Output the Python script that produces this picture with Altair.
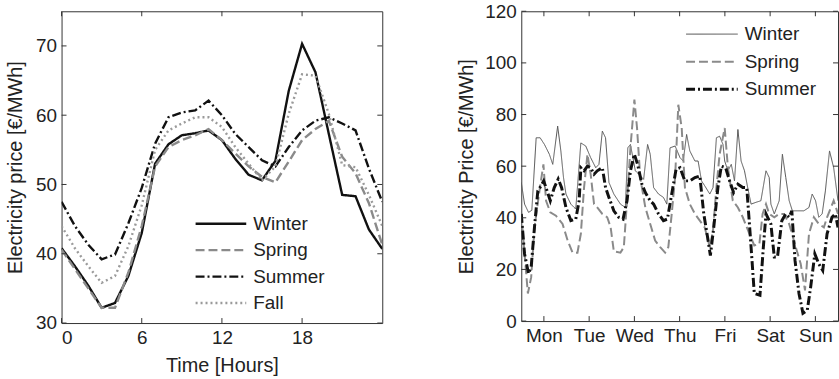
import json
import altair as alt
import pandas as pd

FONT = "Liberation Sans"
INK = "#222222"
FRAME = "#333333"

# ---------------- Average daily profile per season (hour of day, EUR/MWh) ----------------
day_hours = list(range(25))
day_winter = [40.8, 38.2, 35.4, 32.2, 32.9, 36.8, 43.0, 53.0, 55.8, 57.1, 57.4, 57.8, 56.4,
              53.7, 51.4, 50.6, 53.4, 63.5, 70.3, 66.2, 57.3, 48.5, 48.3, 43.5, 40.7]
day_spring = [40.6, 37.8, 35.0, 32.2, 32.2, 37.3, 44.0, 52.6, 55.4, 56.4, 57.1, 58.0, 56.4,
              54.5, 52.6, 51.1, 50.3, 53.3, 56.4, 58.0, 59.2, 54.0, 51.6, 47.3, 41.3]
day_summer = [47.5, 44.0, 41.3, 39.2, 39.9, 44.4, 49.5, 55.9, 59.7, 60.4, 60.7, 62.1, 60.0,
              57.3, 55.4, 53.5, 52.6, 55.4, 57.8, 59.2, 59.7, 58.8, 57.8, 52.3, 47.5]
day_fall = [44.0, 40.8, 38.2, 35.8, 36.8, 41.1, 47.0, 55.0, 57.8, 58.8, 59.7, 59.7, 58.3,
            55.4, 53.0, 50.6, 52.6, 60.2, 65.9, 65.7, 60.2, 52.8, 52.5, 48.5, 44.0]
day_seasons = ["Winter", "Spring", "Summer", "Fall"]
day_xticks = [0, 6, 12, 18]
day_yticks = [30, 40, 50, 60, 70]

# ---------------- One week of hourly prices (hour of week, EUR/MWh) ----------------
week_winter_h = [0, 1.75, 3.86, 5.6, 7.9, 10.0, 12.3, 14.9, 16.7, 19.3, 21.0, 22.4, 23.7, 26.3,
                 28.9, 31.6, 34.2, 36.8, 39.5, 41.2, 43.0, 44.7, 46.5, 49.1, 52.6, 55.2, 56.5,
                 57.9, 60.5, 62.3, 64.9, 67.0, 68.4, 70.2, 72.8, 75.4, 77.2, 78.9, 81.6, 84.2,
                 85.9, 87.7, 89.4, 92.1, 93.8, 95.6, 97.3, 100.0, 101.7, 103.5, 105.2, 107.0,
                 107.9, 109.6, 111.4, 113.1, 114.9, 116.6, 118.4, 120.1, 121.9, 124.5, 127.1,
                 129.8, 131.5, 132.4, 134.2, 136.8, 138.5, 140.3, 142.1, 143.8, 146.4, 149.9,
                 152.6, 154.3, 156.1, 157.8, 159.6, 161.3, 163.5, 165.7, 168.0]
week_winter_v = [53.7, 45.3, 42.1, 42.9, 71.0, 71.0, 68.4, 64.6, 60.7, 75.5, 65.9, 55.6, 49.2, 45.3,
                 43.4, 69.0, 67.8, 63.3, 59.4, 60.7, 73.6, 71.0, 53.7, 49.2, 45.3, 44.0, 67.1,
                 68.4, 58.2, 56.9, 54.9, 68.4, 64.6, 51.7, 49.2, 47.9, 45.3, 67.1, 67.8, 63.3,
                 62.0, 72.3, 65.9, 62.0, 62.0, 54.3, 52.4, 49.2, 51.7, 71.0, 71.6, 68.4,
                 62.0, 58.2, 60.7, 54.3, 74.2, 62.0, 58.2, 51.7, 45.3, 46.0, 46.6,
                 58.2, 55.6, 45.3, 41.5, 46.6, 64.6, 55.6, 46.6, 42.7, 42.7, 42.7,
                 44.0, 49.2, 46.6, 40.2, 41.5, 50.4, 65.9, 59.4, 46.6]

week_spring_h = [0, 1.75, 3.5, 5.26, 7.0, 9.65, 11.75, 13.15, 15.4, 18.4, 21.9, 24.6, 27.2, 29.8,
                 31.6, 33.3, 35.1, 36.8, 38.6, 40.3, 43.0, 45.6, 47.4, 49.1, 52.6, 54.4, 56.1,
                 57.9, 60.0, 61.4, 63.1, 65.8, 68.4, 71.0, 73.7, 76.3, 78.0, 79.8, 81.6, 83.3,
                 85.1, 86.8, 89.4, 92.1, 94.7, 97.3, 100.0, 101.7, 103.5, 105.2, 107.9, 109.6,
                 112.2, 114.9, 117.5, 121.0, 123.6, 126.3, 128.0, 129.8, 131.5, 134.2, 136.8,
                 139.4, 142.1, 145.6, 148.2, 150.5, 152.6, 155.2, 157.8, 160.5, 162.2, 165.7,
                 168.0]
week_spring_v = [41.5, 26.0, 10.7, 17.0, 36.3, 50.4, 60.7, 46.6, 42.1, 40.8, 37.6, 31.2, 26.5, 26.5,
                 33.8, 51.7, 64.6, 56.9, 45.3, 44.0, 41.5, 40.2, 36.3, 27.0, 26.5, 28.6, 46.6,
                 67.1, 85.8, 74.8, 55.6, 44.0, 37.6, 31.2, 28.6, 26.5, 28.6, 41.5, 55.6, 83.8,
                 74.8, 51.7, 45.3, 41.5, 38.9, 36.3, 28.6, 35.0, 51.7, 64.6, 74.8, 59.4,
                 46.6, 44.0, 40.2, 33.8, 29.3, 29.9, 41.5, 45.3, 41.5, 40.2, 41.5,
                 41.5, 37.6, 28.6, 22.2, 11.9, 33.8, 40.2, 37.6, 36.3, 40.2, 46.6,
                 41.5]

week_summer_h = [0, 1.75, 3.86, 5.26, 7.0, 8.77, 10.5, 11.9, 13.7, 15.4, 17.5, 19.6, 21.4, 23.7,
                 26.3, 28.9, 30.7, 31.6, 33.3, 35.1, 36.8, 38.6, 40.3, 43.0, 44.7, 46.5, 49.1,
                 51.7, 54.0, 56.1, 57.9, 60.0, 61.7, 64.0, 65.8, 68.4, 70.2, 72.8, 75.4, 77.5,
                 79.8, 82.1, 84.2, 86.8, 89.4, 92.1, 94.7, 96.8, 99.1, 100.3, 102.1, 104.3,
                 106.1, 108.4, 110.5, 112.6, 114.9, 117.5, 119.6, 121.4, 123.6, 126.6, 128.4,
                 129.8, 132.4, 134.2, 135.9, 138.2, 140.3, 142.1, 143.5, 145.2, 147.3, 149.4,
                 151.7, 153.5, 155.7, 157.8, 159.9, 162.2, 164.8, 166.6, 168.0]
week_summer_v = [41.5, 26.0, 18.4, 21.0, 36.3, 50.4, 52.4, 54.3, 50.4, 46.6, 51.7, 55.0, 51.7, 44.0,
                 38.9, 39.5, 46.6, 59.4, 58.2, 60.0, 59.4, 56.9, 58.2, 59.4, 51.7, 47.9, 42.7,
                 40.2, 39.5, 46.6, 58.2, 64.6, 60.7, 53.0, 49.8, 46.6, 45.3, 41.5, 38.9, 39.5,
                 49.2, 58.8, 59.4, 54.3, 54.3, 55.6, 56.2, 41.5, 31.2, 25.4, 36.3, 51.7,
                 60.0, 59.4, 54.3, 49.8, 53.0, 51.7, 51.7, 33.8, 10.7, 10.0, 28.6,
                 41.5, 37.6, 24.8, 24.8, 38.9, 41.5, 40.2, 42.7, 23.5, 10.7, 3.0,
                 4.2, 13.2, 26.0, 22.2, 19.6, 33.8, 40.2, 41.5, 36.3]

week_seasons = ["Winter", "Spring", "Summer"]
week_days = ["Mon", "Tue", "Wed", "Thu", "Fri", "Sat", "Sun"]
week_xticks = [12, 36, 60, 84, 108, 132, 156]
week_yticks = [0, 20, 40, 60, 80, 100, 120]

# ---------------- tables ----------------
day_df = pd.concat([
    pd.DataFrame({"hour": day_hours, "price": vals, "season": name, "order": i})
    for i, (name, vals) in enumerate(zip(day_seasons, [day_winter, day_spring, day_summer, day_fall]))
])
week_df = pd.concat([
    pd.DataFrame({"hour": h, "price": v, "season": name, "order": i})
    for i, (name, h, v) in enumerate(zip(
        week_seasons,
        [week_winter_h, week_spring_h, week_summer_h],
        [week_winter_v, week_spring_v, week_summer_v]))
])
day_key = pd.DataFrame({"season": day_seasons})
week_key = pd.DataFrame({"season": week_seasons})


def inner_ticks(xvals, yvals, xscale, yscale, xaxis, yaxis, w, h, length=5):
    """Matlab-style inward ticks on all four sides of the frame."""
    xt = pd.DataFrame({"hour": xvals})
    yt = pd.DataFrame({"price": yvals})
    rule = dict(color=FRAME, strokeWidth=1)
    xs = alt.X("hour:Q", scale=xscale, axis=xaxis)
    ys = alt.Y("price:Q", scale=yscale, axis=yaxis)
    return [
        alt.Chart(xt).mark_rule(**rule).encode(x=xs, y=alt.value(h), y2=alt.value(h - length)),
        alt.Chart(xt).mark_rule(**rule).encode(x=xs, y=alt.value(0), y2=alt.value(length)),
        alt.Chart(yt).mark_rule(**rule).encode(y=ys, x=alt.value(0), x2=alt.value(length)),
        alt.Chart(yt).mark_rule(**rule).encode(y=ys, x=alt.value(w - length), x2=alt.value(w)),
    ]


def key_layers(key_df, names, color, dash, width, x0, x1, y0, step, size):
    """Legend drawn inside the plot: a line sample and a label per series."""
    layers = []
    for i, name in enumerate(names):
        base = alt.Chart(key_df).transform_filter(alt.datum.season == name)
        yy = y0 + step * i
        layers.append(base.mark_rule().encode(
            x=alt.value(x0), x2=alt.value(x1), y=alt.value(yy),
            color=alt.Color("season:N", scale=color, legend=None),
            strokeDash=alt.StrokeDash("season:N", scale=dash, legend=None),
            strokeWidth=alt.StrokeWidth("season:N", scale=width, legend=None),
        ))
        layers.append(base.mark_text(align="left", baseline="middle", font=FONT,
                                     fontSize=size, color=INK).encode(
            x=alt.value(x1 + 7), y=alt.value(yy), text="season:N"))
    return layers


# ---------------- left panel: daily profile ----------------
W1, H1 = 323, 314
d_xscale = alt.Scale(domain=[0, 24], nice=False, zero=False)
d_yscale = alt.Scale(domain=[30, 75], nice=False, zero=False)
d_xaxis = alt.Axis(values=day_xticks, title="Time [Hours]", labelPadding=6, titlePadding=8)
d_yaxis = alt.Axis(values=day_yticks, title="Electricity price [€/MWh]", labelPadding=5,
                   titlePadding=10)
d_color = alt.Scale(domain=day_seasons, range=["#111111", "#8a8a8a", "#111111", "#9a9a9a"])
d_dash = alt.Scale(domain=day_seasons, range=[[1, 0], [9, 4], [9, 3, 2, 3], [2, 3]])
d_width = alt.Scale(domain=day_seasons, range=[2.4, 2.4, 2.4, 2.4])

day_lines = alt.Chart(day_df).mark_line(clip=True).encode(
    x=alt.X("hour:Q", scale=d_xscale, axis=d_xaxis),
    y=alt.Y("price:Q", scale=d_yscale, axis=d_yaxis),
    color=alt.Color("season:N", scale=d_color, legend=None),
    strokeDash=alt.StrokeDash("season:N", scale=d_dash, legend=None),
    strokeWidth=alt.StrokeWidth("season:N", scale=d_width, legend=None),
    order=alt.Order("order:Q"),
    detail="season:N",
)

left = alt.layer(
    day_lines,
    *inner_ticks(day_xticks, day_yticks, d_xscale, d_yscale, d_xaxis, d_yaxis, W1, H1),
    *key_layers(day_key, day_seasons, d_color, d_dash, d_width, 135, 186, 214, 26.6, 19),
).properties(width=W1, height=H1)

# ---------------- right panel: one week ----------------
W2, H2 = 319, 312
w_xscale = alt.Scale(domain=[0, 168], nice=False, zero=False)
w_yscale = alt.Scale(domain=[0, 120], nice=False, zero=True)
day_expr = f"{json.dumps(week_days)}[round((datum.value - 12) / 24)]"
w_xaxis = alt.Axis(values=week_xticks, labelExpr=day_expr, title=None, labelPadding=6)
w_yaxis = alt.Axis(values=week_yticks, title="Electricity Price [€/MWh]", labelPadding=5,
                   titlePadding=8)
w_color = alt.Scale(domain=week_seasons, range=["#555555", "#8a8a8a", "#111111"])
w_dash = alt.Scale(domain=week_seasons, range=[[1, 0], [9, 4], [9, 3, 2, 3]])
w_width = alt.Scale(domain=week_seasons, range=[1.0, 3.0, 3.0])

week_lines = alt.Chart(week_df).mark_line(clip=True).encode(
    x=alt.X("hour:Q", scale=w_xscale, axis=w_xaxis),
    y=alt.Y("price:Q", scale=w_yscale, axis=w_yaxis),
    color=alt.Color("season:N", scale=w_color, legend=None),
    strokeDash=alt.StrokeDash("season:N", scale=w_dash, legend=None),
    strokeWidth=alt.StrokeWidth("season:N", scale=w_width, legend=None),
    order=alt.Order("order:Q"),
    detail="season:N",
)

right = alt.layer(
    week_lines,
    *inner_ticks(week_xticks, week_yticks, w_xscale, w_yscale, w_xaxis, w_yaxis, W2, H2),
    *key_layers(week_key, week_seasons, w_color, w_dash, w_width, 166, 218, 23, 27.8, 19),
).properties(width=W2, height=H2)

chart = alt.hconcat(left, right, spacing=73).resolve_scale(
    color="independent", strokeDash="independent", strokeWidth="independent",
    x="independent", y="independent",
).properties(
    padding={"left": 5, "top": 0, "right": 0, "bottom": 0},
    background="white",
).configure_view(
    stroke=FRAME, strokeWidth=1,
).configure_axis(
    labelFont=FONT, titleFont=FONT, labelFontSize=19, titleFontSize=20,
    titleFontWeight="normal", labelColor=INK, titleColor=INK,
    tickSize=0, domain=False, grid=False,
)

chart.save("out.html", embed_options={"renderer": "svg", "actions": False})
